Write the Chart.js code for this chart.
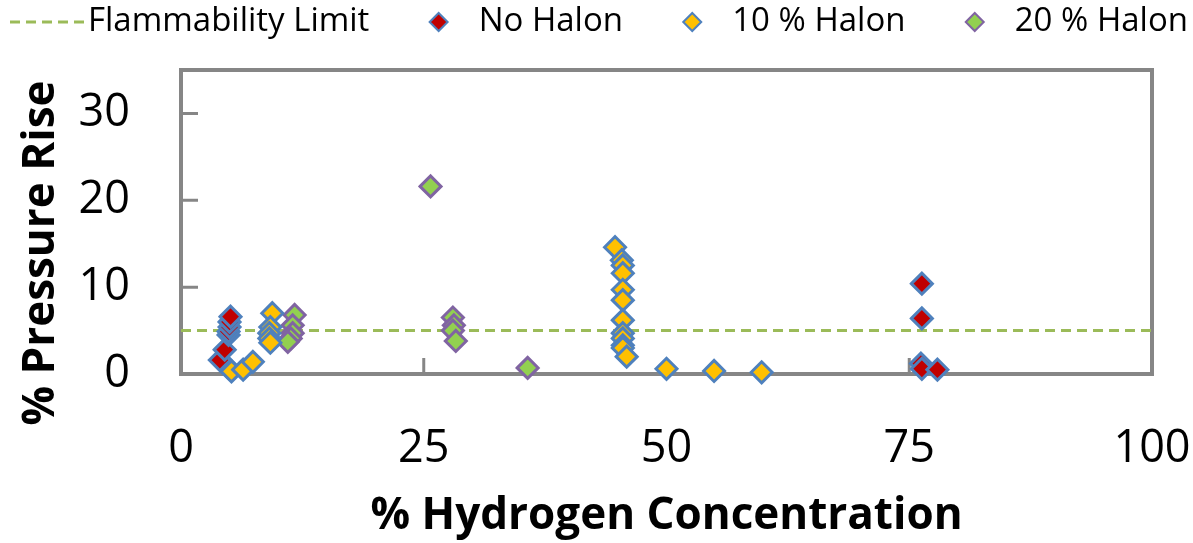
<!DOCTYPE html>
<html lang="en">
<head>
  <meta charset="UTF-8">
  <title>Pressure Rise vs Hydrogen Concentration</title>
  <script src="https://cdn.jsdelivr.net/npm/chart.js"></script>
  <style>
    html, body { margin: 0; padding: 0; background: #fff; }
  </style>
</head>
<body>
  <canvas id="pressureChart" width="1193" height="543"></canvas>

  <script>
    // axis ticks
    const xTicks = [0, 25, 50, 75, 100];
    const yTicks = [0, 10, 20, 30];
    const yMax = 35;
    const flammabilityLimit = 5;

    // No Halon
    const noHalonX = [4.0, 4.5, 4.9, 4.9, 5.0, 5.0, 5.1, 76.3, 76.3, 76.2, 76.3, 77.9];
    const noHalonY = [1.6, 2.8, 4.5, 4.9, 5.4, 6.0, 6.6, 10.4, 6.4, 1.2, 0.6, 0.5];

    // 10 % Halon
    const halon10X = [4.9, 5.2, 6.4, 7.4, 9.4, 9.2, 9.1, 9.1, 9.2,
                      44.7, 45.4, 45.5, 45.5, 45.5, 45.5, 45.5, 45.5, 45.5, 45.5, 45.5, 45.9,
                      50.0, 54.9, 59.8];
    const halon10Y = [0.7, 0.3, 0.5, 1.4, 7.0, 5.4, 4.7, 4.1, 3.6,
                      14.6, 13.1, 12.5, 11.6, 9.7, 8.5, 6.2, 4.7, 4.1, 3.3, 3.0, 2.0,
                      0.6, 0.35, 0.2];

    // 20 % Halon
    const halon20X = [11.7, 11.5, 11.5, 11.3, 11.0, 25.7, 28.0, 28.1, 28.0, 28.3, 35.7];
    const halon20Y = [6.8, 5.6, 4.7, 4.1, 3.7, 21.6, 6.5, 5.6, 5.0, 3.8, 0.7];

    const toPoints = (xs, ys) => xs.map((x, i) => ({ x: x, y: ys[i] }));

    const FONT = '"Open Sans", "Noto Sans", sans-serif';
    const AXIS_GREY = '#868686';

    // plot box + inward tick marks, drawn under the markers
    const frame = {
      id: 'frame',
      beforeDatasetsDraw(chart) {
        const { ctx, chartArea: a, scales: { x, y } } = chart;
        ctx.save();
        ctx.strokeStyle = AXIS_GREY;
        ctx.lineWidth = 4;
        ctx.strokeRect(a.left, a.top, a.width, a.height);
        ctx.lineWidth = 3;
        ctx.beginPath();
        yTicks.slice(1).forEach(v => {
          const py = y.getPixelForValue(v);
          ctx.moveTo(a.left, py);
          ctx.lineTo(a.left + 17, py);
        });
        xTicks.slice(1, -1).forEach(v => {
          const px = x.getPixelForValue(v);
          ctx.moveTo(px, a.bottom);
          ctx.lineTo(px, a.bottom - 16);
        });
        ctx.stroke();
        ctx.restore();
      }
    };

    // vertical title, centred a bit lower than the plot like the original
    const yTitle = {
      id: 'yTitle',
      afterDraw(chart) {
        const { ctx } = chart;
        const t = chart.options.scales.y.title;
        ctx.save();
        ctx.translate(41, 253);
        ctx.rotate(-Math.PI / 2);
        ctx.font = 'bold ' + t.font.size + 'px ' + FONT;
        ctx.textAlign = 'center';
        ctx.textBaseline = 'middle';
        ctx.fillStyle = t.color;
        ctx.fillText(t.text, 0, 0);
        ctx.restore();
      }
    };

    // one-row legend like the original: dashed sample for the limit, diamonds for the rest
    const legendRow = {
      id: 'legendRow',
      afterDraw(chart) {
        const { ctx } = chart;
        const sets = chart.data.datasets;
        const left = 10, right = 1188, cy = 22;
        const lineLen = 75, diamondGap = 40, r = 9;
        ctx.save();
        ctx.font = '33px ' + FONT;
        ctx.textBaseline = 'middle';
        const widths = sets.map((ds, i) => {
          const tw = ctx.measureText(ds.label).width;
          return (i === 0 ? lineLen + 3 : r + diamondGap) + tw;
        });
        const gap = (right - left - widths.reduce((s, w) => s + w, 0)) / (sets.length - 1);
        let x = left;
        sets.forEach((ds, i) => {
          let tx;
          if (i === 0) {
            ctx.strokeStyle = ds.borderColor;
            ctx.lineWidth = ds.borderWidth;
            ctx.setLineDash(ds.borderDash);
            ctx.beginPath();
            ctx.moveTo(x, cy);
            ctx.lineTo(x + lineLen, cy);
            ctx.stroke();
            ctx.setLineDash([]);
            tx = x + lineLen + 3;
          } else {
            const cx = x + r;
            ctx.beginPath();
            ctx.moveTo(cx - r, cy);
            ctx.lineTo(cx, cy - r);
            ctx.lineTo(cx + r, cy);
            ctx.lineTo(cx, cy + r);
            ctx.closePath();
            ctx.fillStyle = ds.backgroundColor;
            ctx.fill();
            ctx.strokeStyle = ds.borderColor;
            ctx.lineWidth = 2;
            ctx.stroke();
            tx = cx + diamondGap;
          }
          ctx.fillStyle = '#000';
          ctx.fillText(ds.label, tx, cy);
          x += widths[i] + gap;
        });
        ctx.restore();
      }
    };

    new Chart(document.getElementById('pressureChart'), {
      type: 'scatter',
      data: {
        datasets: [
          {
            label: 'Flammability Limit',
            data: [{ x: xTicks[0], y: flammabilityLimit }, { x: xTicks[xTicks.length - 1], y: flammabilityLimit }],
            showLine: true,
            borderColor: '#9BBB59',
            borderWidth: 3,
            borderDash: [10, 6],
            pointRadius: 0,
            order: 1
          },
          {
            label: 'No Halon',
            data: toPoints(noHalonX, noHalonY),
            backgroundColor: '#C00000',
            borderColor: '#4F81BD'
          },
          {
            label: '10 % Halon',
            data: toPoints(halon10X, halon10Y),
            backgroundColor: '#FFC000',
            borderColor: '#4F81BD'
          },
          {
            label: '20 % Halon',
            data: toPoints(halon20X, halon20Y),
            backgroundColor: '#92D050',
            borderColor: '#8064A2'
          }
        ]
      },
      options: {
        responsive: false,
        animation: false,
        clip: false,
        layout: { padding: { top: 70, right: 41, bottom: 0, left: 0 } },
        elements: {
          point: { pointStyle: 'rectRot', radius: 10.5, hoverRadius: 10.5, borderWidth: 3 }
        },
        plugins: {
          legend: { display: false },
          tooltip: { enabled: false }
        },
        scales: {
          x: {
            type: 'linear',
            min: xTicks[0],
            max: xTicks[xTicks.length - 1],
            afterBuildTicks: s => { s.ticks = xTicks.map(v => ({ value: v })); },
            afterFit: s => { s.height = 169; s.paddingLeft = 0; s.paddingRight = 0; },
            grid: { display: false, drawTicks: false },
            border: { display: false },
            ticks: { color: '#000', padding: 48, font: { family: FONT, size: 45 } },
            title: {
              display: true,
              text: '% Hydrogen Concentration',
              color: '#000',
              font: { family: FONT, size: 44, weight: 'bold' },
              padding: { top: 0, bottom: 0 }
            }
          },
          y: {
            min: 0,
            max: yMax,
            afterBuildTicks: s => { s.ticks = yTicks.map(v => ({ value: v })); },
            afterFit: s => { s.width = 181; s.paddingTop = 0; s.paddingBottom = 0; },
            grid: { display: false, drawTicks: false },
            border: { display: false },
            ticks: { color: '#000', padding: 51, font: { family: FONT, size: 45 } },
            title: {
              display: false,
              text: '% Pressure Rise',
              color: '#000',
              font: { family: FONT, size: 44, weight: 'bold' }
            }
          }
        }
      },
      plugins: [frame, yTitle, legendRow]
    });
  </script>
</body>
</html>
